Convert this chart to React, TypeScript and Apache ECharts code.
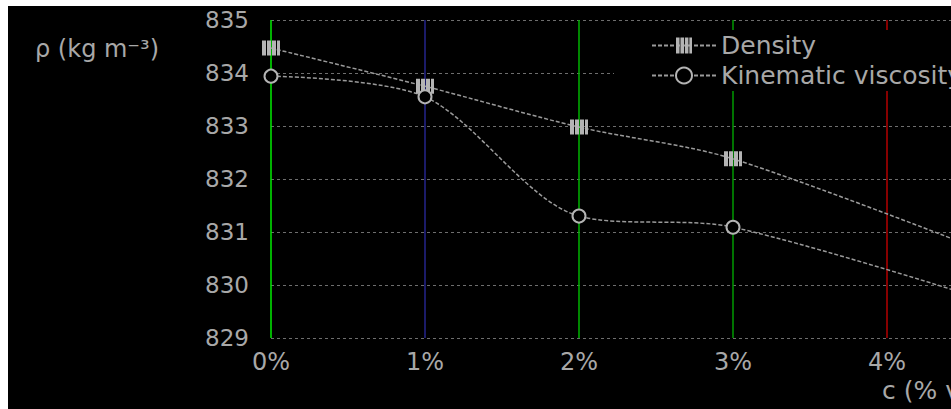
import React, { useEffect, useRef } from "react";
import * as echarts from "echarts";

// Additive concentration (% v/v) and the two measured properties
const concentration = [0, 1, 2, 3, 5];
const density = [834.47, 833.75, 832.98, 832.38, 830.22];
const viscosity = [833.94, 833.55, 831.3, 831.09, 829.38];

const yTicks = { min: 829, max: 835, interval: 1 };
const xTicks = { min: 0, max: 5, interval: 1 };

const seriesNames = ["Density", "Kinematic viscosity"];
const yTitle = "ρ (kg m⁻³)";
const xTitle = "c (% v/v)";

const FONT = "DejaVu Sans";
const TEXT = "#a8a8a8";
const LINE = "#9a9a9a";
const MARK = "#b4b4b4";

// vertical bars used as the density marker
const barsSymbol = "path://M0,0H4V15H0Z M5,0H9V15H5Z M10,0H14V15H10Z M15,0H18V15H15Z";

export default function App() {
  const ref = useRef<HTMLDivElement>(null);

  useEffect(() => {
    if (!ref.current) return;
    const chart = echarts.init(ref.current, undefined, { renderer: "svg" });

    chart.setOption({
      animation: false,
      backgroundColor: "#000",
      textStyle: { fontFamily: FONT },
      grid: { left: 263, top: 14, right: 117, bottom: 78 },
      legend: {
        orient: "vertical",
        left: 606,
        top: 24,
        padding: [3, 10, 3, 37],
        backgroundColor: "#000",
        itemWidth: 64,
        itemHeight: 20,
        itemGap: 5,
        data: seriesNames,
        textStyle: { fontSize: 25, color: TEXT, fontFamily: FONT },
      },
      xAxis: {
        type: "value",
        min: xTicks.min,
        max: xTicks.max,
        interval: xTicks.interval,
        axisLine: { show: false },
        axisTick: { show: false },
        axisLabel: {
          formatter: "{value}%",
          fontSize: 24,
          color: TEXT,
          fontFamily: FONT,
          margin: 12,
        },
        splitLine: {
          show: true,
          lineStyle: {
            width: 1.5,
            type: "solid",
            color: ["#00ee00", "#24248c", "#00b400", "#009a00", "#b40000", "#808080"],
          },
        },
      },
      yAxis: {
        type: "value",
        min: yTicks.min,
        max: yTicks.max,
        interval: yTicks.interval,
        axisLine: { show: false },
        axisTick: { show: false },
        axisLabel: { fontSize: 23, color: TEXT, fontFamily: FONT, margin: 22 },
        splitLine: {
          show: true,
          lineStyle: { color: "#6e6e6e", width: 1, type: [3, 3] },
        },
      },
      graphic: [
        {
          type: "text",
          left: 27,
          top: 31,
          style: { text: yTitle, fontSize: 24, fill: TEXT, fontFamily: FONT },
        },
        {
          type: "text",
          left: 874,
          top: 372,
          style: { text: xTitle, fontSize: 25, fill: TEXT, fontFamily: FONT },
        },
      ],
      series: [
        {
          name: seriesNames[0],
          type: "line",
          smooth: 0.3,
          data: concentration.map((c, i) => [c, density[i]]),
          symbol: barsSymbol,
          symbolSize: [18, 15],
          showAllSymbol: true,
          itemStyle: { color: MARK },
          lineStyle: { color: LINE, width: 1.5, type: [4, 2] },
        },
        {
          name: seriesNames[1],
          type: "line",
          smooth: 0.3,
          data: concentration.map((c, i) => [c, viscosity[i]]),
          symbol: "circle",
          symbolSize: 13,
          showAllSymbol: true,
          itemStyle: { color: "#000", borderWidth: 2, borderColor: MARK },
          lineStyle: { color: LINE, width: 1.5, type: [4, 2] },
        },
      ],
    });

    return () => chart.dispose();
  }, []);

  return (
    <div
      style={{
        position: "fixed",
        left: 8,
        top: 6,
        right: 0,
        bottom: 0,
        overflow: "hidden",
        background: "#000",
      }}
    >
      <div ref={ref} style={{ width: 1150, height: 410 }} />
    </div>
  );
}
